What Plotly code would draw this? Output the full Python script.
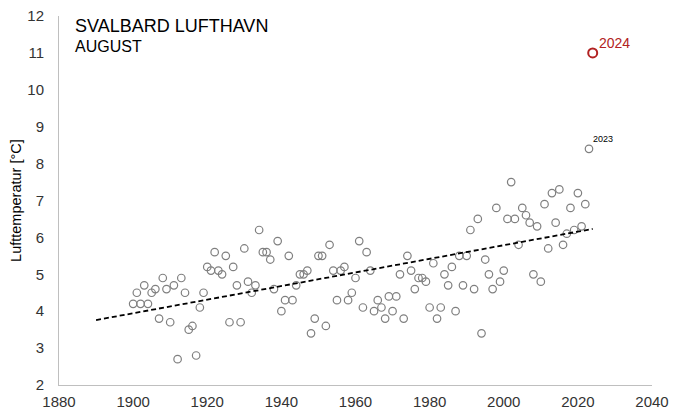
import plotly.graph_objects as go

years = list(range(1900, 2024))
temps = [
    4.2, 4.5, 4.2, 4.7, 4.2, 4.5, 4.6, 3.8, 4.9, 4.6,   # 1900-1909
    3.7, 4.7, 2.7, 4.9, 4.5, 3.5, 3.6, 2.8, 4.1, 4.5,   # 1910-1919
    5.2, 5.1, 5.6, 5.1, 5.0, 5.5, 3.7, 5.2, 4.7, 3.7,   # 1920-1929
    5.7, 4.8, 4.5, 4.7, 6.2, 5.6, 5.6, 5.4, 4.6, 5.9,   # 1930-1939
    4.0, 4.3, 5.5, 4.3, 4.7, 5.0, 5.0, 5.1, 3.4, 3.8,   # 1940-1949
    5.5, 5.5, 3.6, 5.8, 5.1, 4.3, 5.1, 5.2, 4.3, 4.5,   # 1950-1959
    4.9, 5.9, 4.1, 5.6, 5.1, 4.0, 4.3, 4.1, 3.8, 4.4,   # 1960-1969
    4.0, 4.4, 5.0, 3.8, 5.5, 5.1, 4.6, 4.9, 4.9, 4.8,   # 1970-1979
    4.1, 5.3, 3.8, 4.1, 5.0, 4.7, 5.2, 4.0, 5.5, 4.7,   # 1980-1989
    5.5, 6.2, 4.6, 6.5, 3.4, 5.4, 5.0, 4.6, 6.8, 4.8,   # 1990-1999
    5.1, 6.5, 7.5, 6.5, 5.8, 6.8, 6.6, 6.4, 5.0, 6.3,   # 2000-2009
    4.8, 6.9, 5.7, 7.2, 6.4, 7.3, 5.8, 6.1, 6.8, 6.2,   # 2010-2019
    7.2, 6.3, 6.9, 8.4,                                 # 2020-2023
]
highlight_year = [2024]
highlight_temp = [11.0]

trend_years = [1890, 2024]
trend_temps = [3.76, 6.23]

x_ticks = [1880, 1900, 1920, 1940, 1960, 1980, 2000, 2020, 2040]
y_ticks = [2, 3, 4, 5, 6, 7, 8, 9, 10, 11, 12]

FONT = "Liberation Sans, Arial, sans-serif"
RED = "#b22222"

fig = go.Figure()
fig.add_trace(go.Scatter(
    x=years, y=temps, mode="markers",
    marker=dict(symbol="circle-open", size=7.5, color="#7f7f7f",
                line=dict(width=1.2, color="#7f7f7f")),
    showlegend=False, hoverinfo="x+y"))
fig.add_trace(go.Scatter(
    x=trend_years, y=trend_temps, mode="lines",
    line=dict(color="black", width=1.8, dash="5px,3px"),
    showlegend=False, hoverinfo="skip"))
fig.add_trace(go.Scatter(
    x=highlight_year, y=highlight_temp, mode="markers",
    marker=dict(symbol="circle-open", size=9, color=RED,
                line=dict(width=2, color=RED)),
    showlegend=False, hoverinfo="x+y"))

fig.add_annotation(x=highlight_year[0], y=highlight_temp[0], text="2024",
                   showarrow=False, xanchor="left", yanchor="middle",
                   xshift=4, yshift=10, font=dict(family=FONT, size=14, color=RED))
fig.add_annotation(x=years[-1], y=temps[-1], text="2023",
                   showarrow=False, xanchor="center", yanchor="middle",
                   xshift=14, yshift=10, font=dict(family=FONT, size=9, color="black"))

fig.add_annotation(xref="paper", yref="paper", x=0.0236, y=0.973,
                   text="SVALBARD LUFTHAVN", showarrow=False,
                   xanchor="left", yanchor="middle",
                   font=dict(family=FONT, size=18, color="black"))
fig.add_annotation(xref="paper", yref="paper", x=0.0236, y=0.918,
                   text="AUGUST", showarrow=False,
                   xanchor="left", yanchor="middle",
                   font=dict(family=FONT, size=16, color="black"))
fig.add_annotation(xref="paper", yref="paper", x=-0.0735, y=0.5,
                   text="Lufttemperatur [°C]", showarrow=False, textangle=-90,
                   xanchor="center", yanchor="middle",
                   font=dict(family=FONT, size=14.5, color="black"))

# the page body adds an 8px margin, so the figure is sized to fit the window
fig.update_layout(
    width=692, height=411,
    margin=dict(l=51, r=48, t=8, b=34),
    paper_bgcolor="white", plot_bgcolor="white",
    font=dict(family=FONT, size=15, color="#333333"),
)
fig.update_xaxes(range=[1880, 2040], tickvals=x_ticks, showgrid=False,
                 zeroline=False, showline=True, linecolor="#bfbfbf", linewidth=1,
                 ticks="", ticklabelstandoff=3, automargin=False,
                 ticklabeloverflow="allow")
fig.update_yaxes(range=[2, 12], tickvals=y_ticks, showgrid=False,
                 zeroline=False, showline=True, linecolor="#bfbfbf", linewidth=1,
                 ticks="", ticklabelstandoff=11, automargin=False,
                 ticklabeloverflow="allow")

fig.write_html("out.html")
